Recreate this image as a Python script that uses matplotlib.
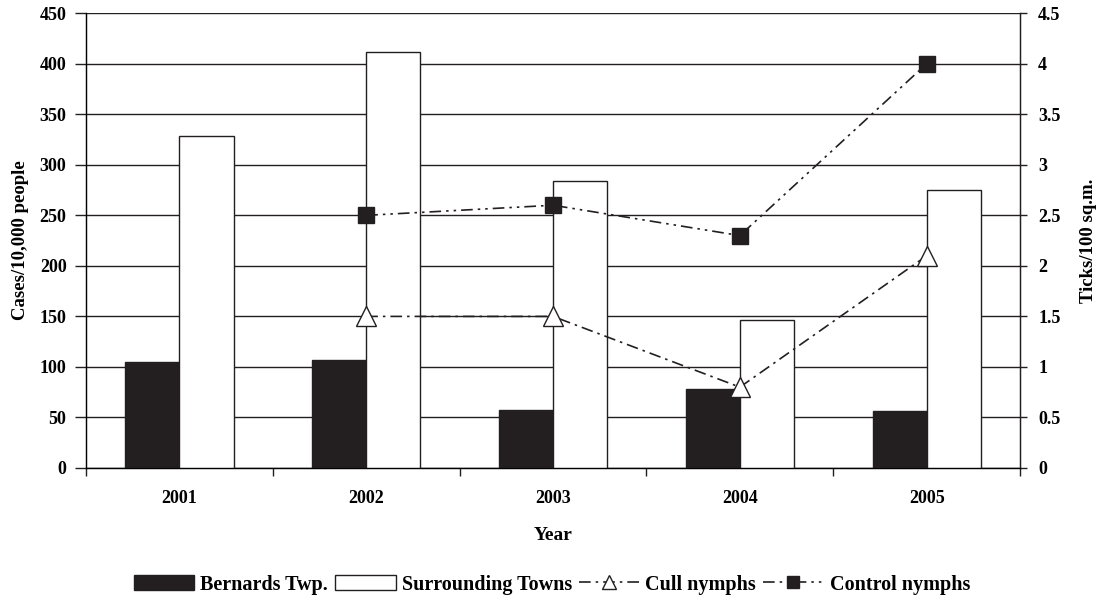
import numpy as np
import matplotlib.pyplot as plt
from matplotlib.lines import Line2D
from matplotlib.patches import Patch
from matplotlib.ticker import FormatStrFormatter

# Data
years = ['2001', '2002', '2003', '2004', '2005']
bernards = [105, 107, 57, 78, 56]
surrounding = [329, 412, 284, 146, 275]
cull_years = ['2002', '2003', '2004', '2005']
cull = [1.5, 1.5, 0.8, 2.1]
control_years = ['2002', '2003', '2004', '2005']
control = [2.5, 2.6, 2.3, 4.0]

plt.rcParams['font.family'] = ['Liberation Serif', 'DejaVu Serif']
plt.rcParams['font.weight'] = 'bold'
plt.rcParams['axes.labelweight'] = 'bold'
plt.rcParams['font.size'] = 13

dark = '#231f20'
x = np.arange(len(years))
w = 0.29

fig = plt.figure(figsize=(11.04, 6.01), dpi=100)
ax = fig.add_axes([0.0779, 0.2213, 0.8461, 0.7567])

ax.bar(x - w / 2, bernards, w, color=dark, edgecolor=dark, linewidth=1, zorder=3)
ax.bar(x + w / 2, surrounding, w, color='white', edgecolor=dark, linewidth=1, zorder=3)

ax.set_xlim(-0.5, len(years) - 0.5)
ax.set_ylim(0, 450)
ax.set_yticks(np.arange(0, 451, 50))
ax.yaxis.grid(True, color=dark, linewidth=1, zorder=0)
ax.set_axisbelow(True)
ax.set_xticks(x)
ax.set_xticklabels(years)
ax.set_xticks(np.arange(-0.5, len(years)), minor=True)
ax.tick_params(axis='x', which='major', length=0, pad=16)
ax.tick_params(axis='x', which='minor', length=6, width=1, color=dark)
ax.tick_params(axis='y', length=8, width=1, color=dark, pad=6)
for s in ['left', 'bottom', 'right']:
    ax.spines[s].set_color(dark)
    ax.spines[s].set_linewidth(1)
ax.spines['top'].set_visible(False)
ax.set_ylabel('Cases/10,000 people', fontsize=13.5, labelpad=8)
ax.set_xlabel('Year', fontsize=14, labelpad=14)

ax2 = ax.twinx()
ax2.set_ylim(0, 4.5)
ax2.set_yticks(np.arange(0, 4.51, 0.5))
ax2.yaxis.set_major_formatter(FormatStrFormatter('%g'))
ax2.tick_params(axis='y', length=5, width=1, color=dark, pad=8)
ax2.spines['top'].set_visible(False)
ax2.spines['right'].set_color(dark)
ax2.set_ylabel('Ticks/100 sq.m.', fontsize=13.5, labelpad=14)

cx = [years.index(y) for y in cull_years]
kx = [years.index(y) for y in control_years]
cull_ls = (0, (7, 3, 1.5, 3))
ctrl_ls = (0, (7, 3, 1.5, 3, 1.5, 3))
ax2.plot(cx, cull, linestyle=cull_ls, color=dark, linewidth=1.2, marker='^',
         markersize=14, markerfacecolor='white', markeredgecolor=dark, markeredgewidth=1, zorder=4)
ax2.plot(kx, control, linestyle=ctrl_ls, color=dark, linewidth=1.2, marker='s',
         markersize=12, markerfacecolor=dark, markeredgecolor=dark, zorder=4)

handles = [
    Patch(facecolor=dark, edgecolor=dark, label='Bernards Twp.'),
    Patch(facecolor='white', edgecolor=dark, label='Surrounding Towns'),
    Line2D([], [], linestyle=cull_ls, color=dark, linewidth=1.2, marker='^', markersize=10,
           markerfacecolor='white', markeredgecolor=dark, label='Cull nymphs'),
    Line2D([], [], linestyle=ctrl_ls, color=dark, linewidth=1.2, marker='s', markersize=9,
           markerfacecolor=dark, markeredgecolor=dark, label='Control nymphs'),
]
fig.legend(handles=handles, loc='center', bbox_to_anchor=(0.5, 0.027), ncol=4, frameon=False,
           handlelength=3.0, handleheight=0.8, handletextpad=0.3, columnspacing=0.35, fontsize=14.5)

fig.savefig('out.png', dpi=100)
